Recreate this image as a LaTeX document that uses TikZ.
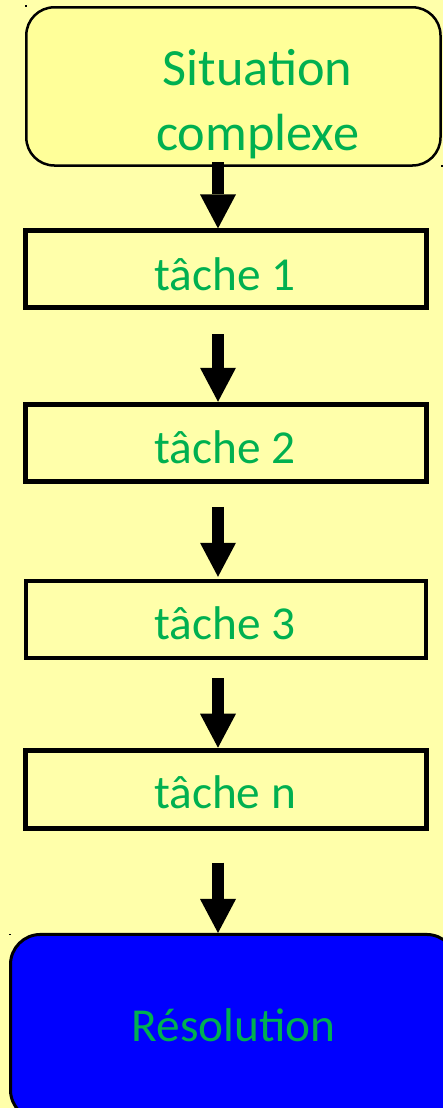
\documentclass[tikz,border=0pt]{standalone}
\usepackage{fontspec}
\setmainfont{Carlito}
\usetikzlibrary{arrows.meta}
\definecolor{bgyellow}{RGB}{255,255,170}
\definecolor{topfill}{RGB}{255,255,153}
\definecolor{txtgreen}{RGB}{0,176,80}
\definecolor{resblue}{RGB}{0,0,255}
\begin{document}
\begin{tikzpicture}[x=1pt,y=-1pt,
  taskbox/.style={draw=black,fill=bgyellow,rectangle,inner sep=0pt,line width=5pt,minimum width=400.7pt},
  lbl/.style={text=txtgreen,inner sep=0pt,font=\fontsize{47.3}{50}\selectfont,anchor=base},
  blockarrow/.style={draw=black,line width=12pt,-{Triangle[width=36pt,length=34pt,line width=0pt]}},
  dotmark/.style={fill=black,inner sep=0pt,minimum size=1.6pt,rectangle}]
\useasboundingbox (0,0) rectangle (443,1108);
\fill[bgyellow] (0,0) rectangle (443,1108);
\begin{scope}
\clip (0,0) rectangle (443,1108);
% boxes
\node[draw=black,fill=topfill,rounded corners=28pt,line width=2.5pt,inner sep=0pt,
  minimum width=414.2pt,minimum height=158.2pt] (top) at (233.4,86.4) {};
\node[taskbox,minimum height=76.7pt] (t1) at (226.2,269.2) {};
\node[taskbox,minimum height=77.3pt] (t2) at (226.2,442.9) {};
\node[taskbox,line width=4pt,minimum width=400pt,minimum height=76.7pt] (t3) at (226,619.7) {};
\node[taskbox,minimum height=78pt] (tn) at (226.2,789.2) {};
\node[draw=black,fill=resblue,rounded corners=30pt,line width=3pt,inner sep=0pt,
  minimum width=446pt,minimum height=185.5pt] (res) at (233.5,1027.2) {};
% labels
\node[lbl,font=\fontsize{52.3}{55}\selectfont] (s1) at (257.5,85.3) {Situation};
\node[lbl,font=\fontsize{52.3}{55}\selectfont] (s2) at (257.7,150) {complexe};
\node[lbl] (l1) at (225,290) {tâche 1};
\node[lbl] (l2) at (225,463.5) {tâche 2};
\node[lbl] (l3) at (225,639) {tâche 3};
\node[lbl] (ln) at (225,808) {tâche n};
\node[lbl] (lr) at (233.5,1041.7) {Résolution};
% arrows
\coordinate (ax) at (218,0);
\draw[blockarrow,shorten <=-4.75pt] (top.south -| ax) -- (t1.north -| ax);
\draw[blockarrow,shorten <=24pt] (t1.south -| ax) -- (t2.north -| ax);
\draw[blockarrow,shorten <=22.7pt,shorten >=2.6pt] (t2.south -| ax) -- (t3.north -| ax);
\draw[blockarrow,shorten <=18pt] (t3.south -| ax) -- (tn.north -| ax);
\draw[blockarrow,shorten <=32pt] (tn.south -| ax) -- (res.north -| ax);
% selection marks
\node[dotmark] (d1) at (25.7,6) {};
\node[dotmark] (d2) at (441.7,165.7) {};
\node[dotmark] (d3) at (10,934.3) {};
\end{scope}
\end{tikzpicture}
\end{document}
